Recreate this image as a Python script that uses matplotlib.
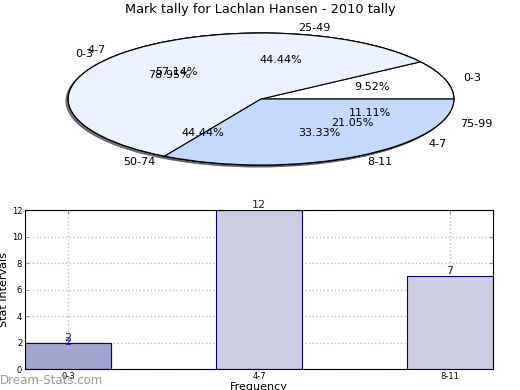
import matplotlib
matplotlib.use('Agg')
import matplotlib.pyplot as plt

# data
title = 'Mark tally for Lachlan Hansen - 2010 tally'

# three pies drawn over each other in the same axes
pie3_labels = ['25-49', '50-74', '75-99']
pie3_values = [4, 4, 1]
pie2_labels = ['0-3', '4-7']
pie2_values = [15, 4]
pie1_labels = ['0-3', '4-7', '8-11']
pie1_values = [2, 12, 7]

bar_labels = ['0-3', '4-7', '8-11']
bar_values = [2, 12, 7]

pie_colors = ['white', '#ebf1fe', '#c5d8fd']

fig = plt.figure(figsize=(5.2, 3.9), dpi=100)

# pie
ax1 = fig.add_axes([0.0385, 0.5346, 0.927, 0.423])
for vals, labs in [(pie3_values, pie3_labels), (pie2_values, pie2_labels), (pie1_values, pie1_labels)]:
    wedges, texts, autotexts = ax1.pie(vals, labels=labs, autopct='%1.2f%%', colors=pie_colors,
                                       shadow={'ox': -0.008, 'oy': -0.02, 'shade': 0.6},
                                       startangle=0,
                                       wedgeprops={'edgecolor': 'black', 'linewidth': 0.8})
    for t in texts + autotexts:
        t.set_fontsize(8)
ax1.set_aspect('auto')
ax1.set_xlim(-1.25, 1.25)
ax1.set_ylim(-1.25, 1.25)
fig.text(0.5, 0.975, title, ha='center', va='center', fontsize=9.3)

# bars
ax2 = fig.add_axes([0.048, 0.0538, 0.9, 0.4077])
x = list(range(len(bar_values)))
ax2.bar(x, bar_values, width=0.45, color='#cdcde4', edgecolor='#000080', linewidth=0.8, zorder=2)
ax2.bar(x[:1], bar_values[:1], width=0.45, color='#a4a4d1', edgecolor='#000080', linewidth=0.8, zorder=2)
for xi, v in zip(x, bar_values):
    ax2.text(xi, v, str(v), ha='center', va='bottom', fontsize=8, color='#1a1a8c', zorder=3)
ax2.text(x[0], bar_values[0] - 0.35, str(bar_values[0]), ha='center', va='bottom',
         fontsize=8, color='#1a1a8c', zorder=3)
ax2.set_xlim(-0.225, 2.225)
ax2.set_ylim(0, 12)
ax2.set_yticks(range(0, 13, 2))
ax2.set_xticks(x)
ax2.set_xticklabels(bar_labels)
ax2.tick_params(labelsize=6, direction='in', top=True, right=True, length=3, color='#999999', pad=2)
ax2.grid(True, linestyle=':', color='#bbbbbb', linewidth=1, zorder=0)
ax2.set_axisbelow(True)
ax2.set_ylabel('Stat Intervals', fontsize=8, labelpad=2)
ax2.set_xlabel('Frequency', fontsize=8, labelpad=1)

fig.text(0.0, 0.024, 'Dream-Stats.com', fontsize=8.5, color='#999999', ha='left', va='center')

fig.savefig('out.png', dpi=100)
